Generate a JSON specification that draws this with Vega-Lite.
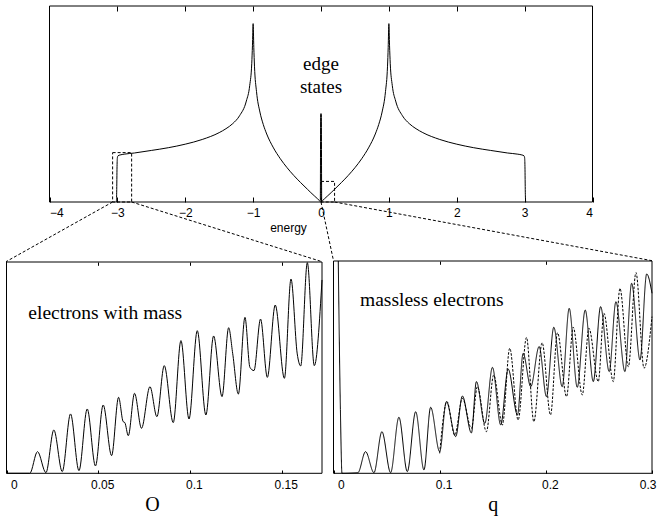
{
  "$schema": "https://vega.github.io/schema/vega-lite/v6.json",
  "width": 665,
  "height": 519,
  "autosize": "none",
  "padding": 0,
  "background": "white",
  "config": {
    "view": {"stroke": null},
    "axis": {"grid": false, "domain": false, "tickColor": "black", "labelColor": "black", "titleColor": "black", "labelFont": "Liberation Sans", "labelFontSize": 12, "titleFontWeight": "normal"}
  },
  "datasets": {
    "dos": [
      {"E": -3.015, "v": 0}, {"E": -3.01, "v": 0.05}, {"E": -3.005, "v": 0.18}, {"E": -3.0, "v": 0.226}, {"E": -2.99, "v": 0.236}, {"E": -2.96, "v": 0.24}, {"E": -2.9, "v": 0.244}, {"E": -2.75, "v": 0.25}, {"E": -2.5, "v": 0.263}, {"E": -2.25, "v": 0.277}, {"E": -2.0, "v": 0.295}, {"E": -1.75, "v": 0.319}, {"E": -1.5, "v": 0.354}, {"E": -1.4, "v": 0.374}, {"E": -1.3, "v": 0.4}, {"E": -1.2, "v": 0.44}, {"E": -1.1, "v": 0.515}, {"E": -1.05, "v": 0.595}, {"E": -1.02, "v": 0.708}, {"E": -1.01, "v": 0.797}, {"E": -1.0, "v": 0.91}, {"E": -0.99, "v": 0.788}, {"E": -0.98, "v": 0.693}, {"E": -0.95, "v": 0.563}, {"E": -0.9, "v": 0.459}, {"E": -0.85, "v": 0.395}, {"E": -0.8, "v": 0.347}, {"E": -0.7, "v": 0.276}, {"E": -0.6, "v": 0.221}, {"E": -0.5, "v": 0.175}, {"E": -0.4, "v": 0.135}, {"E": -0.3, "v": 0.099}, {"E": -0.2, "v": 0.065}, {"E": -0.15, "v": 0.048}, {"E": -0.1, "v": 0.032}, {"E": -0.05, "v": 0.016}, {"E": -0.02, "v": 0.006}, {"E": -0.01, "v": 0.002},
      {"E": -0.005, "v": 0.45}, {"E": 0.005, "v": 0.45},
      {"E": 0.01, "v": 0.002}, {"E": 0.02, "v": 0.006}, {"E": 0.05, "v": 0.016}, {"E": 0.1, "v": 0.032}, {"E": 0.15, "v": 0.048}, {"E": 0.2, "v": 0.065}, {"E": 0.3, "v": 0.099}, {"E": 0.4, "v": 0.135}, {"E": 0.5, "v": 0.175}, {"E": 0.6, "v": 0.221}, {"E": 0.7, "v": 0.276}, {"E": 0.8, "v": 0.347}, {"E": 0.85, "v": 0.395}, {"E": 0.9, "v": 0.459}, {"E": 0.95, "v": 0.563}, {"E": 0.98, "v": 0.693}, {"E": 0.99, "v": 0.788}, {"E": 1.0, "v": 0.91}, {"E": 1.01, "v": 0.797}, {"E": 1.02, "v": 0.708}, {"E": 1.05, "v": 0.595}, {"E": 1.1, "v": 0.515}, {"E": 1.2, "v": 0.44}, {"E": 1.3, "v": 0.4}, {"E": 1.4, "v": 0.374}, {"E": 1.5, "v": 0.354}, {"E": 1.75, "v": 0.319}, {"E": 2.0, "v": 0.295}, {"E": 2.25, "v": 0.277}, {"E": 2.5, "v": 0.263}, {"E": 2.75, "v": 0.25}, {"E": 2.9, "v": 0.244}, {"E": 2.96, "v": 0.24}, {"E": 2.99, "v": 0.236}, {"E": 3.0, "v": 0.226}, {"E": 3.005, "v": 0.18}, {"E": 3.01, "v": 0.05}, {"E": 3.015, "v": 0}
    ],
    "topframe": [{"x1": -4, "x2": 4, "y1": 0, "y2": 1}],
    "boxes": [{"x1": -3.07, "x2": -2.79, "y1": 0, "y2": 0.252}, {"x1": 0, "x2": 0.2, "y1": 0, "y2": 0.105}],
    "connectors": [
      {"x1": -3.07, "y1": 0, "x2": -4.641, "y2": -0.3046},
      {"x1": -2.79, "y1": 0, "x2": 0.0147, "y2": -0.3046},
      {"x1": 0, "y1": 0, "x2": 0.184, "y2": -0.2995},
      {"x1": 0.2, "y1": 0, "x2": 4.877, "y2": -0.2995}
    ],
    "edgelabel": [{"E": 0, "v": 0.706, "t": "edge"}, {"E": 0, "v": 0.589, "t": "states"}],
    "left": [
      {"q": 0, "v": 0}, {"q": 0.0127, "v": 0}, {"q": 0.0169, "v": 0.1025}, {"q": 0.0215, "v": 0.003}, {"q": 0.0258, "v": 0.205}, {"q": 0.0304, "v": 0.008}, {"q": 0.0349, "v": 0.281}, {"q": 0.0395, "v": 0.0126}, {"q": 0.044, "v": 0.3044}, {"q": 0.0485, "v": 0.0347}, {"q": 0.0527, "v": 0.3233}, {"q": 0.0573, "v": 0.0836}, {"q": 0.0611, "v": 0.3596}, {"q": 0.0636, "v": 0.2445}, {"q": 0.0645, "v": 0.24}, {"q": 0.0664, "v": 0.178}, {"q": 0.0698, "v": 0.3785}, {"q": 0.0736, "v": 0.213}, {"q": 0.0782, "v": 0.41}, {"q": 0.082, "v": 0.268}, {"q": 0.086, "v": 0.5095}, {"q": 0.0909, "v": 0.24}, {"q": 0.0951, "v": 0.628}, {"q": 0.0995, "v": 0.257}, {"q": 0.104, "v": 0.675}, {"q": 0.1087, "v": 0.276}, {"q": 0.1129, "v": 0.65}, {"q": 0.1175, "v": 0.363}, {"q": 0.1211, "v": 0.689}, {"q": 0.1233, "v": 0.568}, {"q": 0.1264, "v": 0.375}, {"q": 0.13, "v": 0.738}, {"q": 0.1327, "v": 0.5016}, {"q": 0.1349, "v": 0.486}, {"q": 0.1385, "v": 0.73}, {"q": 0.1422, "v": 0.454}, {"q": 0.1465, "v": 0.7965}, {"q": 0.1515, "v": 0.4495}, {"q": 0.1551, "v": 0.9196}, {"q": 0.1585, "v": 0.565}, {"q": 0.1604, "v": 0.508}, {"q": 0.164, "v": 0.997}, {"q": 0.1678, "v": 0.5095}, {"q": 0.172, "v": 0.915}
    ],
    "leftframe": [{"x1": 0, "x2": 0.172, "y1": 0, "y2": 1}],
    "leftlabel": [{"q": 0.0119, "v": 0.7586, "t": "electrons with mass"}],
    "right": [
      {"q": 0.0045, "v": 1.0, "s": "solid"}, {"q": 0.0065, "v": 0.3, "s": "solid"}, {"q": 0.008, "v": 0, "s": "solid"}, {"q": 0.023, "v": 0.003, "s": "solid"}, {"q": 0.0302, "v": 0.102, "s": "solid"}, {"q": 0.0381, "v": 0.003, "s": "solid"}, {"q": 0.0456, "v": 0.196, "s": "solid"}, {"q": 0.0538, "v": 0.003, "s": "solid"}, {"q": 0.0616, "v": 0.264, "s": "solid"}, {"q": 0.0695, "v": 0.008, "s": "solid"}, {"q": 0.0774, "v": 0.29, "s": "solid"}, {"q": 0.0852, "v": 0.016, "s": "solid"}, {"q": 0.0915, "v": 0.311, "s": "solid"}, {"q": 0.1, "v": 0.102, "s": "solid"}, {"q": 0.1063, "v": 0.3375, "s": "solid"}, {"q": 0.1151, "v": 0.173, "s": "solid"}, {"q": 0.1214, "v": 0.364, "s": "solid"}, {"q": 0.1299, "v": 0.19, "s": "solid"}, {"q": 0.1346, "v": 0.432, "s": "solid"}, {"q": 0.1425, "v": 0.235, "s": "solid"}, {"q": 0.1497, "v": 0.499, "s": "solid"}, {"q": 0.1575, "v": 0.228, "s": "solid"}, {"q": 0.1645, "v": 0.491, "s": "solid"}, {"q": 0.1733, "v": 0.275, "s": "solid"}, {"q": 0.1786, "v": 0.565, "s": "solid"}, {"q": 0.1858, "v": 0.408, "s": "solid"}, {"q": 0.1937, "v": 0.597, "s": "solid"}, {"q": 0.2006, "v": 0.361, "s": "solid"}, {"q": 0.2075, "v": 0.688, "s": "solid"}, {"q": 0.2154, "v": 0.408, "s": "solid"}, {"q": 0.222, "v": 0.777, "s": "solid"}, {"q": 0.2296, "v": 0.405, "s": "solid"}, {"q": 0.2371, "v": 0.769, "s": "solid"}, {"q": 0.2447, "v": 0.432, "s": "solid"}, {"q": 0.2516, "v": 0.785, "s": "solid"}, {"q": 0.2597, "v": 0.479, "s": "solid"}, {"q": 0.266, "v": 0.808, "s": "solid"}, {"q": 0.2745, "v": 0.479, "s": "solid"}, {"q": 0.2808, "v": 0.895, "s": "solid"}, {"q": 0.2887, "v": 0.534, "s": "solid"}, {"q": 0.295, "v": 0.939, "s": "solid"}, {"q": 0.3, "v": 0.848, "s": "solid"},
      {"q": 0.1, "v": 0.094, "s": "dashed"}, {"q": 0.1069, "v": 0.3375, "s": "dashed"}, {"q": 0.1142, "v": 0.18, "s": "dashed"}, {"q": 0.1214, "v": 0.353, "s": "dashed"}, {"q": 0.1299, "v": 0.212, "s": "dashed"}, {"q": 0.1355, "v": 0.408, "s": "dashed"}, {"q": 0.144, "v": 0.196, "s": "dashed"}, {"q": 0.1509, "v": 0.463, "s": "dashed"}, {"q": 0.1591, "v": 0.228, "s": "dashed"}, {"q": 0.166, "v": 0.589, "s": "dashed"}, {"q": 0.1739, "v": 0.251, "s": "dashed"}, {"q": 0.1818, "v": 0.64, "s": "dashed"}, {"q": 0.1887, "v": 0.243, "s": "dashed"}, {"q": 0.1965, "v": 0.615, "s": "dashed"}, {"q": 0.2044, "v": 0.275, "s": "dashed"}, {"q": 0.211, "v": 0.662, "s": "dashed"}, {"q": 0.2195, "v": 0.361, "s": "dashed"}, {"q": 0.2258, "v": 0.688, "s": "dashed"}, {"q": 0.2343, "v": 0.369, "s": "dashed"}, {"q": 0.2406, "v": 0.683, "s": "dashed"}, {"q": 0.2494, "v": 0.432, "s": "dashed"}, {"q": 0.2547, "v": 0.754, "s": "dashed"}, {"q": 0.2635, "v": 0.432, "s": "dashed"}, {"q": 0.2698, "v": 0.871, "s": "dashed"}, {"q": 0.2777, "v": 0.502, "s": "dashed"}, {"q": 0.2849, "v": 0.945, "s": "dashed"}, {"q": 0.2925, "v": 0.495, "s": "dashed"}, {"q": 0.3, "v": 0.738, "s": "dashed"}
    ],
    "rightframe": [{"x1": 0, "x2": 0.3, "y1": 0, "y2": 1}],
    "rightlabel": [{"q": 0.025, "v": 0.816, "t": "massless electrons"}]
  },
  "layer": [
    {
      "data": {"name": "dos"},
      "mark": {"type": "line", "color": "black", "strokeWidth": 1, "interpolate": "monotone"},
      "encoding": {
        "x": {"field": "E", "type": "quantitative", "scale": {"domain": [-4, 4], "range": [49.5, 592.5], "nice": false, "zero": false},
              "axis": {"orient": "bottom", "offset": -317, "values": [-4, -3, -2, -1, 0, 1, 2, 3, 4], "format": "d", "tickSize": -5, "labelPadding": 10, "title": "energy", "titleFont": "Liberation Sans", "titleFontSize": 12, "titlePadding": 4, "titleX": 288}},
        "y": {"field": "v", "type": "quantitative", "scale": {"domain": [0, 1], "range": [202, 6], "nice": false, "zero": false}, "axis": null}
      }
    },
    {
      "data": {"name": "topframe"},
      "mark": {"type": "rect", "fillOpacity": 0, "stroke": "black", "strokeWidth": 1},
      "encoding": {
        "x": {"field": "x1", "type": "quantitative", "scale": {"domain": [-4, 4], "range": [49.5, 592.5], "nice": false, "zero": false},
              "axis": {"orient": "top", "offset": -6, "values": [-3, -2, -1, 0, 1, 2, 3], "tickSize": -5, "labels": false, "title": null}},
        "x2": {"field": "x2"},
        "y": {"field": "y1", "type": "quantitative", "scale": {"domain": [0, 1], "range": [202, 6], "nice": false, "zero": false}, "axis": null},
        "y2": {"field": "y2"}
      }
    },
    {
      "data": {"name": "boxes"},
      "mark": {"type": "rect", "fillOpacity": 0, "stroke": "black", "strokeWidth": 1, "strokeDash": [3, 2]},
      "encoding": {
        "x": {"field": "x1", "type": "quantitative", "scale": {"domain": [-4, 4], "range": [49.5, 592.5], "nice": false, "zero": false}, "axis": null},
        "x2": {"field": "x2"},
        "y": {"field": "y1", "type": "quantitative", "scale": {"domain": [0, 1], "range": [202, 6], "nice": false, "zero": false}, "axis": null},
        "y2": {"field": "y2"}
      }
    },
    {
      "data": {"name": "connectors"},
      "mark": {"type": "rule", "color": "black", "strokeWidth": 1, "strokeDash": [3, 2]},
      "encoding": {
        "x": {"field": "x1", "type": "quantitative", "scale": {"domain": [-4, 4], "range": [49.5, 592.5], "nice": false, "zero": false}, "axis": null},
        "x2": {"field": "x2"},
        "y": {"field": "y1", "type": "quantitative", "scale": {"domain": [0, 1], "range": [202, 6], "nice": false, "zero": false}, "axis": null},
        "y2": {"field": "y2"}
      }
    },
    {
      "data": {"name": "edgelabel"},
      "mark": {"type": "text", "font": "Liberation Serif", "fontSize": 19, "color": "black", "align": "center", "baseline": "middle"},
      "encoding": {
        "x": {"field": "E", "type": "quantitative", "scale": {"domain": [-4, 4], "range": [49.5, 592.5], "nice": false, "zero": false}, "axis": null},
        "y": {"field": "v", "type": "quantitative", "scale": {"domain": [0, 1], "range": [202, 6], "nice": false, "zero": false}, "axis": null},
        "text": {"field": "t"}
      }
    },
    {
      "data": {"name": "left"},
      "mark": {"type": "line", "color": "black", "strokeWidth": 1, "interpolate": "monotone"},
      "encoding": {
        "x": {"field": "q", "type": "quantitative", "scale": {"domain": [0, 0.172], "range": [6.5, 322], "nice": false, "zero": false},
              "axis": {"orient": "bottom", "offset": -45.7, "values": [0, 0.05, 0.1, 0.15], "format": "~g", "tickSize": -3.3, "labelPadding": 9.3, "labelOffset": 4, "title": "O", "titleFont": "Liberation Serif", "titleFontSize": 20, "titlePadding": 4, "titleX": 152}},
        "y": {"field": "v", "type": "quantitative", "scale": {"domain": [0, 1], "range": [473.3, 262], "nice": false, "zero": false}, "axis": null}
      }
    },
    {
      "data": {"name": "leftframe"},
      "mark": {"type": "rect", "fillOpacity": 0, "stroke": "black", "strokeWidth": 1},
      "encoding": {
        "x": {"field": "x1", "type": "quantitative", "scale": {"domain": [0, 0.172], "range": [6.5, 322], "nice": false, "zero": false},
              "axis": {"orient": "top", "offset": -262, "values": [0.05, 0.1, 0.15], "tickSize": -3.3, "labels": false, "title": null}},
        "x2": {"field": "x2"},
        "y": {"field": "y1", "type": "quantitative", "scale": {"domain": [0, 1], "range": [473.3, 262], "nice": false, "zero": false}, "axis": null},
        "y2": {"field": "y2"}
      }
    },
    {
      "data": {"name": "leftlabel"},
      "mark": {"type": "text", "font": "Liberation Serif", "fontSize": 19.5, "color": "black", "align": "left", "baseline": "middle"},
      "encoding": {
        "x": {"field": "q", "type": "quantitative", "scale": {"domain": [0, 0.172], "range": [6.5, 322], "nice": false, "zero": false}, "axis": null},
        "y": {"field": "v", "type": "quantitative", "scale": {"domain": [0, 1], "range": [473.3, 262], "nice": false, "zero": false}, "axis": null},
        "text": {"field": "t"}
      }
    },
    {
      "data": {"name": "right"},
      "mark": {"type": "line", "color": "black", "strokeWidth": 1, "interpolate": "monotone"},
      "encoding": {
        "x": {"field": "q", "type": "quantitative", "scale": {"domain": [0, 0.3], "range": [333.5, 652], "nice": false, "zero": false},
              "axis": {"orient": "bottom", "offset": -45.7, "values": [0, 0.1, 0.2, 0.3], "format": "~g", "tickSize": -3.3, "labelPadding": 9.3, "labelOffset": 4, "title": "q", "titleFont": "Liberation Serif", "titleFontSize": 20, "titlePadding": 4}},
        "y": {"field": "v", "type": "quantitative", "scale": {"domain": [0, 1], "range": [473.3, 261], "nice": false, "zero": false}, "axis": null},
        "strokeDash": {"field": "s", "type": "nominal", "scale": {"domain": ["solid", "dashed"], "range": [[1, 0], [2.5, 1.5]]}, "legend": null}
      }
    },
    {
      "data": {"name": "rightframe"},
      "mark": {"type": "rect", "fillOpacity": 0, "stroke": "black", "strokeWidth": 1},
      "encoding": {
        "x": {"field": "x1", "type": "quantitative", "scale": {"domain": [0, 0.3], "range": [333.5, 652], "nice": false, "zero": false},
              "axis": {"orient": "top", "offset": -261, "values": [0.1, 0.2], "tickSize": -3.3, "labels": false, "title": null}},
        "x2": {"field": "x2"},
        "y": {"field": "y1", "type": "quantitative", "scale": {"domain": [0, 1], "range": [473.3, 261], "nice": false, "zero": false}, "axis": null},
        "y2": {"field": "y2"}
      }
    },
    {
      "data": {"name": "rightlabel"},
      "mark": {"type": "text", "font": "Liberation Serif", "fontSize": 19.5, "color": "black", "align": "left", "baseline": "middle"},
      "encoding": {
        "x": {"field": "q", "type": "quantitative", "scale": {"domain": [0, 0.3], "range": [333.5, 652], "nice": false, "zero": false}, "axis": null},
        "y": {"field": "v", "type": "quantitative", "scale": {"domain": [0, 1], "range": [473.3, 261], "nice": false, "zero": false}, "axis": null},
        "text": {"field": "t"}
      }
    }
  ],
  "resolve": {"scale": {"x": "independent", "y": "independent", "strokeDash": "independent"}, "axis": {"x": "independent", "y": "independent"}}
}
